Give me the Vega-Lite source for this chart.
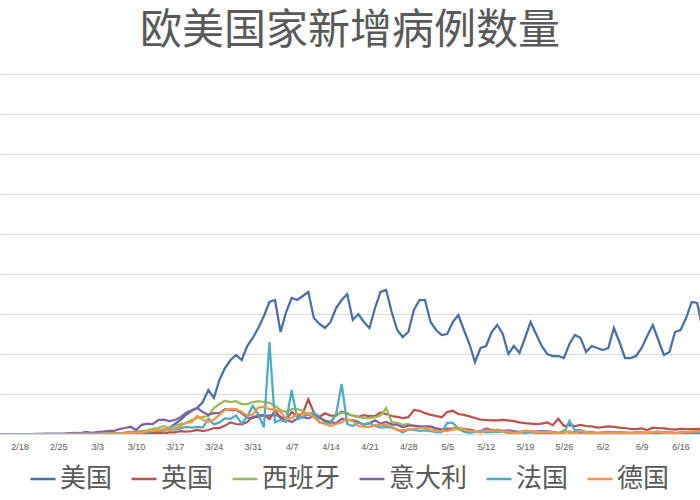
{
  "$schema": "https://vega.github.io/schema/vega-lite/v6.json",
  "width": 700,
  "height": 360,
  "autosize": {"type": "none"},
  "padding": {"top": 74, "left": 0, "right": 0, "bottom": 66},
  "background": "white",
  "title": {"text": "欧美国家新增病例数量", "font": "Noto Sans CJK SC", "fontSize": 42, "fontWeight": "normal", "color": "#595959", "anchor": "middle", "offset": -21, "baseline": "bottom"},
  "config": {"view": {"stroke": null}, "font": "Noto Sans CJK SC"},
  "data": {
    "format": {"parse": {"date": "date"}},
    "values": [
      {"date": "2020/02/14", "美国": 0, "英国": 0, "西班牙": 0, "意大利": 0, "法国": 0, "德国": 0},
      {"date": "2020/02/15", "美国": 0, "英国": 0, "西班牙": 0, "意大利": 0, "法国": 0, "德国": 0},
      {"date": "2020/02/16", "美国": 0, "英国": 0, "西班牙": 0, "意大利": 0, "法国": 0, "德国": 0},
      {"date": "2020/02/17", "美国": 0, "英国": 0, "西班牙": 0, "意大利": 0, "法国": 0, "德国": 0},
      {"date": "2020/02/18", "美国": 0, "英国": 0, "西班牙": 0, "意大利": 0, "法国": 0, "德国": 0},
      {"date": "2020/02/19", "美国": 0, "英国": 0, "西班牙": 0, "意大利": 0, "法国": 0, "德国": 0},
      {"date": "2020/02/20", "美国": 0, "英国": 0, "西班牙": 0, "意大利": 0, "法国": 0, "德国": 0},
      {"date": "2020/02/21", "美国": 0, "英国": 0, "西班牙": 0, "意大利": 10, "法国": 0, "德国": 0},
      {"date": "2020/02/22", "美国": 0, "英国": 0, "西班牙": 0, "意大利": 50, "法国": 0, "德国": 0},
      {"date": "2020/02/23", "美国": 0, "英国": 0, "西班牙": 0, "意大利": 100, "法国": 0, "德国": 0},
      {"date": "2020/02/24", "美国": 0, "英国": 0, "西班牙": 0, "意大利": 70, "法国": 0, "德国": 0},
      {"date": "2020/02/25", "美国": 0, "英国": 0, "西班牙": 0, "意大利": 80, "法国": 0, "德国": 0},
      {"date": "2020/02/26", "美国": 0, "英国": 0, "西班牙": 0, "意大利": 100, "法国": 0, "德国": 0},
      {"date": "2020/02/27", "美国": 0, "英国": 0, "西班牙": 0, "意大利": 200, "法国": 0, "德国": 30},
      {"date": "2020/02/28", "美国": 0, "英国": 0, "西班牙": 0, "意大利": 250, "法国": 0, "德国": 30},
      {"date": "2020/02/29", "美国": 0, "英国": 0, "西班牙": 0, "意大利": 240, "法国": 0, "德国": 50},
      {"date": "2020/03/01", "美国": 10, "英国": 10, "西班牙": 0, "意大利": 500, "法国": 50, "德国": 100},
      {"date": "2020/03/02", "美国": 20, "英国": 10, "西班牙": 50, "意大利": 300, "法国": 50, "德国": 30},
      {"date": "2020/03/03", "美国": 30, "英国": 10, "西班牙": 50, "意大利": 500, "法国": 50, "德国": 30},
      {"date": "2020/03/04", "美国": 30, "英国": 20, "西班牙": 100, "意大利": 600, "法国": 100, "德国": 100},
      {"date": "2020/03/05", "美国": 70, "英国": 50, "西班牙": 100, "意大利": 800, "法国": 100, "德国": 100},
      {"date": "2020/03/06", "美国": 80, "英国": 50, "西班牙": 200, "意大利": 800, "法国": 200, "德国": 200},
      {"date": "2020/03/07", "美国": 100, "英国": 50, "西班牙": 100, "意大利": 1200, "法国": 200, "德国": 100},
      {"date": "2020/03/08", "美国": 120, "英国": 60, "西班牙": 400, "意大利": 1500, "法国": 200, "德国": 300},
      {"date": "2020/03/09", "美国": 150, "英国": 50, "西班牙": 600, "意大利": 1800, "法国": 300, "德国": 200},
      {"date": "2020/03/10", "美国": 250, "英国": 50, "西班牙": 600, "意大利": 1000, "法国": 400, "德国": 400},
      {"date": "2020/03/11", "美国": 400, "英国": 80, "西班牙": 800, "意大利": 2300, "法国": 500, "德国": 300},
      {"date": "2020/03/12", "美国": 500, "英国": 130, "西班牙": 900, "意大利": 2600, "法国": 600, "德国": 700},
      {"date": "2020/03/13", "美国": 700, "英国": 200, "西班牙": 1300, "意大利": 2500, "法国": 800, "德国": 800},
      {"date": "2020/03/14", "美国": 800, "英国": 250, "西班牙": 1500, "意大利": 3500, "法国": 900, "德国": 900},
      {"date": "2020/03/15", "美国": 1000, "英国": 150, "西班牙": 2000, "意大利": 3600, "法国": 800, "德国": 1200},
      {"date": "2020/03/16", "美国": 1500, "英国": 400, "西班牙": 1400, "意大利": 3200, "法国": 1200, "德国": 1000},
      {"date": "2020/03/17", "美国": 2500, "英国": 400, "西班牙": 2000, "意大利": 3500, "法国": 1100, "德国": 1400},
      {"date": "2020/03/18", "美国": 3500, "英国": 700, "西班牙": 2500, "意大利": 4200, "法国": 1400, "德国": 2000},
      {"date": "2020/03/19", "美国": 4800, "英国": 600, "西班牙": 2800, "意大利": 5300, "法国": 1800, "德国": 2800},
      {"date": "2020/03/20", "美国": 5800, "英国": 700, "西班牙": 3500, "意大利": 5900, "法国": 1600, "德国": 3000},
      {"date": "2020/03/21", "美国": 6500, "英国": 1000, "西班牙": 4000, "意大利": 6500, "法国": 1800, "德国": 4500},
      {"date": "2020/03/22", "美国": 8000, "英国": 700, "西班牙": 4300, "意大利": 5500, "法国": 1600, "德国": 3600},
      {"date": "2020/03/23", "美国": 11000, "英国": 1000, "西班牙": 4500, "意大利": 4800, "法国": 3800, "德国": 3000},
      {"date": "2020/03/24", "美国": 9000, "英国": 1500, "西班牙": 6500, "意大利": 5200, "法国": 2400, "德国": 3600},
      {"date": "2020/03/25", "美国": 13500, "英国": 1500, "西班牙": 7500, "意大利": 5200, "法国": 2900, "德国": 4800},
      {"date": "2020/03/26", "美国": 16500, "英国": 2100, "西班牙": 8300, "意大利": 6200, "法国": 3900, "德国": 6000},
      {"date": "2020/03/27", "美国": 18500, "英国": 2900, "西班牙": 8000, "意大利": 6000, "法国": 3800, "德国": 6300},
      {"date": "2020/03/28", "美国": 19750, "英国": 2500, "西班牙": 8200, "意大利": 6000, "法国": 4600, "德国": 6200},
      {"date": "2020/03/29", "美国": 18500, "英国": 2400, "西班牙": 7500, "意大利": 5200, "法国": 2600, "德国": 5500},
      {"date": "2020/03/30", "美国": 22000, "英国": 3000, "西班牙": 7500, "意大利": 4100, "法国": 4400, "德国": 4600},
      {"date": "2020/03/31", "美国": 24000, "英国": 4300, "西班牙": 8000, "意大利": 4000, "法国": 7000, "德国": 4900},
      {"date": "2020/04/01", "美国": 26500, "英国": 4200, "西班牙": 8200, "意大利": 4800, "法国": 4900, "德国": 6600},
      {"date": "2020/04/02", "美国": 29500, "英国": 4800, "西班牙": 8000, "意大利": 4600, "法国": 1700, "德国": 6800},
      {"date": "2020/04/03", "美国": 33000, "英国": 3700, "西班牙": 7800, "意大利": 4600, "法国": 23000, "德国": 6200},
      {"date": "2020/04/04", "美国": 33500, "英国": 5900, "西班牙": 7000, "意大利": 4800, "法国": 2900, "德国": 6100},
      {"date": "2020/04/05", "美国": 25500, "英国": 4000, "西班牙": 6000, "意大利": 4300, "法国": 3500, "德国": 5500},
      {"date": "2020/04/06", "美国": 30500, "英国": 3600, "西班牙": 5500, "意大利": 3600, "法国": 3000, "德国": 3700},
      {"date": "2020/04/07", "美国": 34000, "英国": 5500, "西班牙": 6200, "意大利": 3000, "法国": 11000, "德国": 4000},
      {"date": "2020/04/08", "美国": 33500, "英国": 4300, "西班牙": 6200, "意大利": 3800, "法国": 3800, "德国": 5000},
      {"date": "2020/04/09", "美国": 34500, "英国": 5200, "西班牙": 5800, "意大利": 4200, "法国": 4300, "德国": 4900},
      {"date": "2020/04/10", "美国": 35500, "英国": 8700, "西班牙": 4800, "意大利": 3900, "法国": 4800, "德国": 5300},
      {"date": "2020/04/11", "美国": 29000, "英国": 5300, "西班牙": 4800, "意大利": 4700, "法国": 5500, "德国": 4100},
      {"date": "2020/04/12", "美国": 27500, "英国": 4300, "西班牙": 4200, "意大利": 4100, "法国": 2900, "德国": 3000},
      {"date": "2020/04/13", "美国": 26500, "英国": 5200, "西班牙": 3400, "意大利": 3200, "法国": 2700, "德国": 2500},
      {"date": "2020/04/14", "美国": 28000, "英国": 4600, "西班牙": 3000, "意大利": 2900, "法国": 2600, "德国": 2000},
      {"date": "2020/04/15", "美国": 31500, "英国": 4600, "西班牙": 5000, "意大利": 2700, "法国": 5000, "德国": 2500},
      {"date": "2020/04/16", "美国": 33500, "英国": 5600, "西班牙": 5200, "意大利": 3800, "法国": 12500, "德国": 2900},
      {"date": "2020/04/17", "美国": 35000, "英国": 5000, "西班牙": 5300, "意大利": 3500, "法国": 2500, "德国": 3700},
      {"date": "2020/04/18", "美国": 28500, "英国": 4600, "西班牙": 4500, "意大利": 3500, "法国": 2000, "德国": 3200},
      {"date": "2020/04/19", "美国": 30000, "英国": 4300, "西班牙": 4200, "意大利": 3000, "法国": 2800, "德国": 2000},
      {"date": "2020/04/20", "美国": 28000, "英国": 4700, "西班牙": 4000, "意大利": 2300, "法国": 2500, "德国": 1800},
      {"date": "2020/04/21", "美国": 26500, "英国": 4500, "西班牙": 4000, "意大利": 2700, "法国": 2700, "德国": 1800},
      {"date": "2020/04/22", "美国": 31500, "英国": 4500, "西班牙": 4200, "意大利": 3400, "法国": 2000, "德国": 2200},
      {"date": "2020/04/23", "美国": 35500, "英国": 5400, "西班牙": 4600, "意大利": 2600, "法国": 1600, "德国": 2300},
      {"date": "2020/04/24", "美国": 36000, "英国": 5000, "西班牙": 6500, "意大利": 3000, "法国": 1800, "德国": 2300},
      {"date": "2020/04/25", "美国": 30500, "英国": 4500, "西班牙": 3000, "意大利": 2400, "法国": 1600, "德国": 1900},
      {"date": "2020/04/26", "美国": 26000, "英国": 4300, "西班牙": 2800, "意大利": 2300, "法国": 1100, "德国": 1000},
      {"date": "2020/04/27", "美国": 24250, "英国": 4000, "西班牙": 2300, "意大利": 1700, "法国": 400, "德国": 1000},
      {"date": "2020/04/28", "美国": 25500, "英国": 4200, "西班牙": 2500, "意大利": 2100, "法国": 1200, "德国": 1100},
      {"date": "2020/04/29", "美国": 31000, "英国": 6000, "西班牙": 2000, "意大利": 2100, "法国": 1000, "德国": 1300},
      {"date": "2020/04/30", "美国": 33500, "英国": 5800, "西班牙": 1900, "意大利": 1900, "法国": 800, "德国": 1500},
      {"date": "2020/05/01", "美国": 33500, "英国": 5200, "西班牙": 1500, "意大利": 1900, "法国": 900, "德国": 1600},
      {"date": "2020/05/02", "美国": 28000, "英国": 4800, "西班牙": 1700, "意大利": 1900, "法国": 700, "德国": 900},
      {"date": "2020/05/03", "美国": 26000, "英国": 4500, "西班牙": 1000, "意大利": 1400, "法国": 500, "德国": 700},
      {"date": "2020/05/04", "美国": 24750, "英国": 4200, "西班牙": 600, "意大利": 1200, "法国": 500, "德国": 700},
      {"date": "2020/05/05", "美国": 25000, "英国": 5500, "西班牙": 1500, "意大利": 1100, "法国": 2800, "德国": 700},
      {"date": "2020/05/06", "美国": 28000, "英国": 5800, "西班牙": 1100, "意大利": 1400, "法国": 2800, "德国": 1200},
      {"date": "2020/05/07", "美国": 29750, "英国": 5000, "西班牙": 1300, "意大利": 1400, "法国": 1300, "德国": 1200},
      {"date": "2020/05/08", "美国": 26000, "英国": 4800, "西班牙": 1100, "意大利": 1300, "法国": 600, "德国": 1200},
      {"date": "2020/05/09", "美国": 22500, "英国": 4400, "西班牙": 1000, "意大利": 1100, "法国": 300, "德国": 700},
      {"date": "2020/05/10", "美国": 18000, "英国": 4000, "西班牙": 600, "意大利": 800, "法国": 500, "德国": 700},
      {"date": "2020/05/11", "美国": 21500, "英国": 3600, "西班牙": 400, "意大利": 700, "法国": 800, "德国": 400},
      {"date": "2020/05/12", "美国": 22000, "英国": 3500, "西班牙": 600, "意大利": 1400, "法国": 400, "德国": 900},
      {"date": "2020/05/13", "美国": 25500, "英国": 3400, "西班牙": 400, "意大利": 900, "法国": 600, "德国": 800},
      {"date": "2020/05/14", "美国": 27250, "英国": 3400, "西班牙": 500, "意大利": 1000, "法国": 600, "德国": 900},
      {"date": "2020/05/15", "美国": 25000, "英国": 3500, "西班牙": 600, "意大利": 800, "法国": 500, "德国": 600},
      {"date": "2020/05/16", "美国": 20000, "英国": 3400, "西班牙": 500, "意大利": 900, "法国": 300, "德国": 600},
      {"date": "2020/05/17", "美国": 22000, "英国": 3200, "西班牙": 300, "意大利": 700, "法国": 400, "德国": 300},
      {"date": "2020/05/18", "美国": 20250, "英国": 2900, "西班牙": 400, "意大利": 500, "法国": 500, "德国": 300},
      {"date": "2020/05/19", "美国": 24000, "英国": 2700, "西班牙": 300, "意大利": 800, "法国": 400, "德国": 800},
      {"date": "2020/05/20", "美国": 28000, "英国": 2600, "西班牙": 400, "意大利": 700, "法国": 500, "德国": 700},
      {"date": "2020/05/21", "美国": 25000, "英国": 2500, "西班牙": 500, "意大利": 600, "法国": 300, "德国": 500},
      {"date": "2020/05/22", "美国": 22000, "英国": 2600, "西班牙": 700, "意大利": 700, "法国": 300, "德国": 500},
      {"date": "2020/05/23", "美国": 20000, "英国": 2900, "西班牙": 400, "意大利": 700, "法国": 200, "德国": 600},
      {"date": "2020/05/24", "美国": 19500, "英国": 2200, "西班牙": 500, "意大利": 500, "法国": 100, "德国": 400},
      {"date": "2020/05/25", "美国": 19500, "英国": 3800, "西班牙": 100, "意大利": 300, "法国": 300, "德国": 300},
      {"date": "2020/05/26", "美国": 19000, "英国": 2000, "西班牙": 900, "意大利": 400, "法国": 200, "德国": 400},
      {"date": "2020/05/27", "美国": 22500, "英国": 2200, "西班牙": 200, "意大利": 600, "法国": 3300, "德国": 600},
      {"date": "2020/05/28", "美国": 24750, "英国": 2000, "西班牙": 300, "意大利": 500, "法国": 1000, "德国": 300},
      {"date": "2020/05/29", "美国": 24000, "英国": 2300, "西班牙": 400, "意大利": 500, "法国": 1000, "德国": 700},
      {"date": "2020/05/30", "美国": 20500, "英国": 2000, "西班牙": 300, "意大利": 400, "法国": 500, "德国": 400},
      {"date": "2020/05/31", "美国": 22000, "英国": 1900, "西班牙": 200, "意大利": 400, "法国": 400, "德国": 300},
      {"date": "2020/06/01", "美国": 21500, "英国": 1600, "西班牙": 100, "意大利": 200, "法国": 300, "德国": 300},
      {"date": "2020/06/02", "美国": 21000, "英国": 1700, "西班牙": 200, "意大利": 300, "法国": 400, "德国": 200},
      {"date": "2020/06/03", "美国": 21500, "英国": 1900, "西班牙": 400, "意大利": 300, "法国": 500, "德国": 300},
      {"date": "2020/06/04", "美国": 26500, "英国": 1800, "西班牙": 300, "意大利": 500, "法国": 400, "德国": 300},
      {"date": "2020/06/05", "美国": 23000, "英国": 1600, "西班牙": 300, "意大利": 500, "法国": 400, "德国": 400},
      {"date": "2020/06/06", "美国": 19000, "英国": 1500, "西班牙": 400, "意大利": 300, "法国": 300, "德国": 300},
      {"date": "2020/06/07", "美国": 19000, "英国": 1300, "西班牙": 300, "意大利": 200, "法国": 300, "德国": 200},
      {"date": "2020/06/08", "美国": 19500, "英国": 1200, "西班牙": 200, "意大利": 300, "法国": 400, "德国": 200},
      {"date": "2020/06/09", "美国": 21500, "英国": 1400, "西班牙": 200, "意大利": 300, "法国": 400, "德国": 300},
      {"date": "2020/06/10", "美国": 24500, "英国": 1000, "西班牙": 300, "意大利": 200, "法国": 300, "德国": 300},
      {"date": "2020/06/11", "美国": 27250, "英国": 1600, "西班牙": 400, "意大利": 400, "法国": 300, "德国": 500},
      {"date": "2020/06/12", "美国": 23500, "英国": 1500, "西班牙": 500, "意大利": 200, "法国": 400, "德国": 600},
      {"date": "2020/06/13", "美国": 19750, "英国": 1400, "西班牙": 300, "意大利": 300, "法国": 400, "德国": 200},
      {"date": "2020/06/14", "美国": 20500, "英国": 1200, "西班牙": 300, "意大利": 300, "法国": 400, "德国": 200},
      {"date": "2020/06/15", "美国": 25500, "英国": 1100, "西班牙": 200, "意大利": 200, "法国": 300, "德国": 200},
      {"date": "2020/06/16", "美国": 26000, "英国": 1300, "西班牙": 300, "意大利": 200, "法国": 400, "德国": 300},
      {"date": "2020/06/17", "美国": 29000, "英国": 1200, "西班牙": 400, "意大利": 300, "法国": 400, "德国": 500},
      {"date": "2020/06/18", "美国": 33000, "英国": 1200, "西班牙": 600, "意大利": 300, "法国": 400, "德国": 600},
      {"date": "2020/06/19", "美国": 32750, "英国": 1300, "西班牙": 400, "意大利": 250, "法国": 400, "德国": 800},
      {"date": "2020/06/20", "美国": 26000, "英国": 1200, "西班牙": 300, "意大利": 260, "法国": 400, "德国": 600}
    ]
  },
  "transform": [{"fold": ["美国", "英国", "西班牙", "意大利", "法国", "德国"], "as": ["country", "cases"]}],
  "mark": {"type": "line", "strokeWidth": 2.25, "clip": true},
  "encoding": {
    "x": {
      "field": "date",
      "type": "temporal",
      "scale": {"domain": [{"year": 2020, "month": 2, "date": 14, "hours": 12}, {"year": 2020, "month": 6, "date": 19, "hours": 12}]},
      "axis": {
        "title": null,
        "grid": false,
        "ticks": false,
        "domainColor": "#d9d9d9",
        "domainWidth": 1,
        "format": "%-m/%-d",
        "labelFont": "Liberation Sans",
        "labelFontSize": 9,
        "labelColor": "#595959",
        "labelPadding": 8,
        "labelOverlap": false,
        "labelFlush": false,
        "values": [
          {"year": 2020, "month": 2, "date": 18}, {"year": 2020, "month": 2, "date": 25},
          {"year": 2020, "month": 3, "date": 3}, {"year": 2020, "month": 3, "date": 10},
          {"year": 2020, "month": 3, "date": 17}, {"year": 2020, "month": 3, "date": 24},
          {"year": 2020, "month": 3, "date": 31}, {"year": 2020, "month": 4, "date": 7},
          {"year": 2020, "month": 4, "date": 14}, {"year": 2020, "month": 4, "date": 21},
          {"year": 2020, "month": 4, "date": 28}, {"year": 2020, "month": 5, "date": 5},
          {"year": 2020, "month": 5, "date": 12}, {"year": 2020, "month": 5, "date": 19},
          {"year": 2020, "month": 5, "date": 26}, {"year": 2020, "month": 6, "date": 2},
          {"year": 2020, "month": 6, "date": 9}, {"year": 2020, "month": 6, "date": 16}
        ]
      }
    },
    "y": {
      "field": "cases",
      "type": "quantitative",
      "scale": {"domain": [0, 90000], "nice": false},
      "axis": {
        "title": null,
        "labels": false,
        "ticks": false,
        "domain": false,
        "gridColor": "#d9d9d9",
        "gridWidth": 1,
        "values": [0, 10000, 20000, 30000, 40000, 50000, 60000, 70000, 80000, 90000]
      }
    },
    "color": {
      "field": "country",
      "type": "nominal",
      "scale": {
        "domain": ["美国", "英国", "西班牙", "意大利", "法国", "德国"],
        "range": ["#4A6FA8", "#C0504D", "#9BBB59", "#8064A2", "#4BACC6", "#F79646"]
      },
      "legend": {
        "orient": "none",
        "legendX": 29,
        "legendY": 391,
        "direction": "horizontal",
        "columns": 6,
        "title": null,
        "symbolType": "stroke",
        "symbolSize": 625,
        "symbolStrokeWidth": 2.5,
        "labelFont": "Noto Sans CJK SC",
        "labelFontSize": 26,
        "labelColor": "#595959",
        "labelOffset": 3,
        "columnPadding": 13,
        "padding": 0
      }
    }
  }
}
